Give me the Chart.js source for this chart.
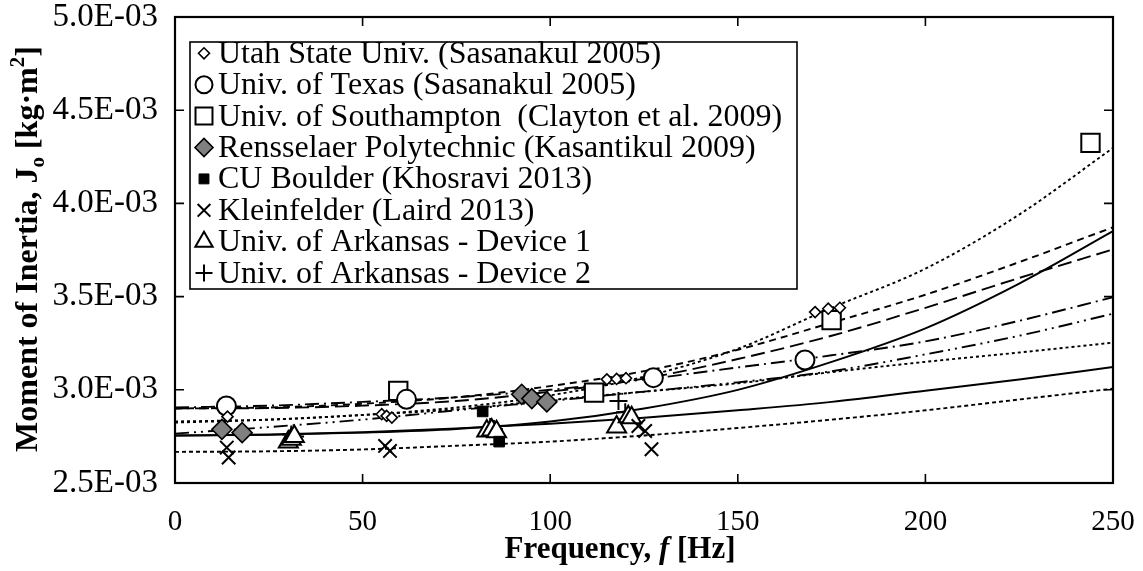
<!DOCTYPE html>
<html><head><meta charset="utf-8">
<script src="https://cdn.jsdelivr.net/npm/chart.js@4.4.1/dist/chart.umd.min.js"></script>
<style>html,body{margin:0;padding:0;background:#fff}#wrap{width:1143px;height:571px;position:relative}</style>
</head><body><div id="wrap"><canvas id="c"></canvas></div>
<script>
// ---- tick labels ----
const xTickLabels = ['0', '50', '100', '150', '200', '250'];
const yTickLabels = ['2.5E-03', '3.0E-03', '3.5E-03', '4.0E-03', '4.5E-03', '5.0E-03'];
const xTitle = ['Frequency, ', 'f', ' [Hz]'];
const yTitle = ['Moment of Inertia, J', 'o', ' [kg\u00B7m', '2', ']'];

// ---- series names ----
const seriesNames = [
  'Utah State Univ. (Sasanakul 2005)',
  'Univ. of Texas (Sasanakul 2005)',
  'Univ. of Southampton  (Clayton et al. 2009)',
  'Rensselaer Polytechnic (Kasantikul 2009)',
  'CU Boulder (Khosravi 2013)',
  'Kleinfelder (Laird 2013)',
  'Univ. of Arkansas - Device 1',
  'Univ. of Arkansas - Device 2'
];

// ---- measured points (frequency Hz, J0 kg·m²) ----
const utahF  = [14.0, 55.1, 56.4, 57.8, 115.1, 117.7, 120.2, 170.6, 174.1, 177.2];
const utahJ  = [2.856e-3, 2.869e-3, 2.860e-3, 2.851e-3, 3.056e-3, 3.058e-3, 3.062e-3, 3.417e-3, 3.435e-3, 3.440e-3];
const texasF = [13.7, 61.7, 127.5, 167.9];
const texasJ = [2.913e-3, 2.949e-3, 3.065e-3, 3.160e-3];
const sotonF = [59.5, 111.7, 175.0, 244.0];
const sotonJ = [2.994e-3, 2.985e-3, 3.374e-3, 4.325e-3];
const rpiF   = [12.5, 17.9, 92.4, 95.1, 99.1];
const rpiJ   = [2.788e-3, 2.770e-3, 2.976e-3, 2.953e-3, 2.935e-3];
const cuF    = [82.0, 86.4];
const cuJ    = [2.884e-3, 2.722e-3];
const kleinF = [13.8, 14.3, 56.0, 57.3, 123.5, 125.3, 127.0];
const kleinJ = [2.690e-3, 2.637e-3, 2.699e-3, 2.672e-3, 2.806e-3, 2.779e-3, 2.681e-3];
const ark1F  = [30.2, 31.0, 31.8, 83.1, 84.4, 85.7, 117.7, 120.8, 121.7];
const ark1J  = [2.720e-3, 2.735e-3, 2.750e-3, 2.779e-3, 2.785e-3, 2.775e-3, 2.800e-3, 2.855e-3, 2.850e-3];
const ark2F  = [31.0, 32.0, 84.0, 85.0, 118.2, 120.0];
const ark2J  = [2.760e-3, 2.750e-3, 2.800e-3, 2.790e-3, 2.940e-3, 2.880e-3];

// ---- fitted trend curves ----
const curveF = [0, 25, 50, 75, 100, 125, 150, 175, 200, 225, 250];
const curveTopDotted   = [2.830e-3, 2.840e-3, 2.865e-3, 2.905e-3, 2.970e-3, 3.070e-3, 3.220e-3, 3.440e-3, 3.650e-3, 3.940e-3, 4.298e-3];
const curveShortDash   = [2.900e-3, 2.905e-3, 2.925e-3, 2.960e-3, 3.020e-3, 3.100e-3, 3.215e-3, 3.360e-3, 3.510e-3, 3.685e-3, 3.872e-3];
const curveLongDash    = [2.900e-3, 2.902e-3, 2.915e-3, 2.940e-3, 2.990e-3, 3.060e-3, 3.165e-3, 3.290e-3, 3.440e-3, 3.600e-3, 3.753e-3];
const curveSolidSteep  = [2.755e-3, 2.758e-3, 2.770e-3, 2.790e-3, 2.830e-3, 2.900e-3, 3.000e-3, 3.150e-3, 3.330e-3, 3.570e-3, 3.851e-3];
const curveDashDotTx   = [2.905e-3, 2.915e-3, 2.935e-3, 2.960e-3, 3.000e-3, 3.055e-3, 3.120e-3, 3.185e-3, 3.260e-3, 3.370e-3, 3.497e-3];
const curveDashDotLow  = [2.765e-3, 2.800e-3, 2.840e-3, 2.890e-3, 2.940e-3, 2.990e-3, 3.040e-3, 3.100e-3, 3.190e-3, 3.290e-3, 3.408e-3];
const curveMidDotted   = [2.824e-3, 2.840e-3, 2.865e-3, 2.895e-3, 2.945e-3, 2.990e-3, 3.035e-3, 3.095e-3, 3.150e-3, 3.200e-3, 3.253e-3];
const curveSolidLow    = [2.755e-3, 2.760e-3, 2.772e-3, 2.793e-3, 2.818e-3, 2.850e-3, 2.890e-3, 2.935e-3, 2.995e-3, 3.055e-3, 3.122e-3];
const curveLowDotted   = [2.667e-3, 2.670e-3, 2.680e-3, 2.700e-3, 2.722e-3, 2.755e-3, 2.795e-3, 2.840e-3, 2.890e-3, 2.948e-3, 3.006e-3];

const pts = (xs, ys) => xs.map((x, i) => ({x, y: ys[i]}));
const SERIF = '"Liberation Serif", "Times New Roman", serif';

function markerSet(label, xs, ys, style, radius, fill, bw) {
  return {label, data: pts(xs, ys), showLine: false, pointStyle: style, pointRadius: radius,
    pointHoverRadius: radius, backgroundColor: fill, borderColor: '#000', pointBorderWidth: bw,
    borderWidth: bw, order: 1, isMarker: true};
}
function curveSet(ys, dash, w) {
  return {label: '', data: pts(curveF, ys), showLine: true, pointRadius: 0, borderColor: '#000',
    backgroundColor: '#000', borderWidth: w || 1.9, borderDash: dash, cubicInterpolationMode: 'monotone',
    fill: false, order: 2, isMarker: false};
}

const datasets = [
  curveSet(curveTopDotted, [3, 3]),
  curveSet(curveShortDash, [7, 5]),
  curveSet(curveLongDash, [14, 6]),
  curveSet(curveSolidSteep, []),
  curveSet(curveDashDotTx, [14, 5, 2, 5]),
  curveSet(curveDashDotLow, [14, 5, 2, 5, 2, 5]),
  curveSet(curveMidDotted, [3, 3]),
  curveSet(curveSolidLow, []),
  curveSet(curveLowDotted, [4, 3]),
  markerSet(seriesNames[0], utahF, utahJ, 'rectRot', 5.5, '#fff', 1.6),
  markerSet(seriesNames[1], texasF, texasJ, 'circle', 9.5, '#fff', 2),
  markerSet(seriesNames[2], sotonF, sotonJ, 'rect', 13, '#fff', 2),
  markerSet(seriesNames[3], rpiF, rpiJ, 'rectRot', 10, '#808080', 1.6),
  markerSet(seriesNames[4], cuF, cuJ, 'rect', 7.5, '#000', 1),
  markerSet(seriesNames[5], kleinF, kleinJ, 'crossRot', 9.5, '#000', 2),
  markerSet(seriesNames[6], ark1F, ark1J, 'triangle', 11, '#fff', 2),
  markerSet(seriesNames[7], ark2F, ark2J, 'cross', 9, '#000', 2)
];

// legend marker sizes
const legendRadius = [5.5, 8.5, 12, 9, 7, 9, 10, 8.5];

const framePlugin = {
  id: 'frame',
  afterDraw(chart) {
    const {ctx, chartArea: a, scales: {x, y}} = chart;
    ctx.save();
    ctx.strokeStyle = '#000';
    ctx.lineWidth = 2.2;
    ctx.strokeRect(a.left, a.top, a.right - a.left, a.bottom - a.top);
    ctx.lineWidth = 1.6;
    const L = 9;
    x.ticks.forEach(t => {
      const px = x.getPixelForValue(t.value);
      ctx.beginPath();
      ctx.moveTo(px, a.bottom); ctx.lineTo(px, a.bottom - L);
      ctx.moveTo(px, a.top); ctx.lineTo(px, a.top + L);
      ctx.stroke();
    });
    y.ticks.forEach(t => {
      const py = y.getPixelForValue(t.value);
      ctx.beginPath();
      ctx.moveTo(a.left, py); ctx.lineTo(a.left + L, py);
      ctx.moveTo(a.right, py); ctx.lineTo(a.right - L, py);
      ctx.stroke();
    });
    // axis titles with sub/superscripts
    ctx.fillStyle = '#000';
    ctx.textBaseline = 'alphabetic';
    const fsx = 31, fsy = 32;
    const boldX = `bold ${fsx}px ${SERIF}`, boldItX = `italic bold ${fsx}px ${SERIF}`;
    const runsX = [[xTitle[0], boldX], [xTitle[1], boldItX], [xTitle[2], boldX]];
    let wsum = 0;
    runsX.forEach(r => { ctx.font = r[1]; wsum += ctx.measureText(r[0]).width; });
    let cx = (a.left + a.right) / 2 - wsum / 2 - 24;
    runsX.forEach(r => { ctx.font = r[1]; ctx.fillText(r[0], cx, 558); cx += ctx.measureText(r[0]).width; });
    // y title (rotated)
    const boldY = `bold ${fsy}px ${SERIF}`;
    ctx.translate(37, 249);
    ctx.rotate(-Math.PI / 2);
    const small = `bold ${Math.round(fsy * 0.65)}px ${SERIF}`;
    const runsY = [[yTitle[0], boldY, 0], [yTitle[1], small, 7], [yTitle[2], boldY, 0], [yTitle[3], small, -13], [yTitle[4], boldY, 0]];
    wsum = 0;
    runsY.forEach(r => { ctx.font = r[1]; wsum += ctx.measureText(r[0]).width; });
    cx = -wsum / 2;
    runsY.forEach(r => { ctx.font = r[1]; ctx.fillText(r[0], cx, r[2]); cx += ctx.measureText(r[0]).width; });
    ctx.restore();
  }
};

const legendPlugin = {
  id: 'boxLegend',
  afterDatasetsDraw(chart) {
    const {ctx} = chart;
    const bx = 190, by = 42, bw = 607, bh = 247;
    ctx.save();
    ctx.fillStyle = '#fff';
    ctx.fillRect(bx, by, bw, bh);
    ctx.strokeStyle = '#000';
    ctx.lineWidth = 1.6;
    ctx.strokeRect(bx, by, bw, bh);
    const markers = chart.data.datasets.filter(d => d.isMarker);
    markers.forEach((d, i) => {
      const yy = 53.3 + i * 31.4;
      ctx.fillStyle = d.backgroundColor;
      ctx.strokeStyle = '#000';
      ctx.lineWidth = d.pointBorderWidth;
      Chart.helpers.drawPoint(ctx, {pointStyle: d.pointStyle, radius: legendRadius[i], rotation: 0, borderWidth: d.pointBorderWidth}, 204, yy);
      ctx.fillStyle = '#000';
      ctx.font = `32px ${SERIF}`;
      ctx.textBaseline = 'middle';
      ctx.fillText(d.label, 218, yy + 1);
    });
    ctx.restore();
  }
};

new Chart(document.getElementById('c'), {
  type: 'scatter',
  data: {datasets},
  options: {
    responsive: true,
    maintainAspectRatio: false,
    animation: false,
    events: [],
    layout: {padding: {top: 17, right: 30, left: 0, bottom: 0}},
    plugins: {legend: {display: false}, tooltip: {enabled: false}, title: {display: false}},
    scales: {
      x: {
        type: 'linear', min: 0, max: 250,
        afterFit: s => { s.height = 88; s.paddingLeft = 0; s.paddingRight = 0; },
        grid: {display: false, drawTicks: false},
        border: {display: false},
        ticks: {stepSize: 50, padding: 22, color: '#000', font: {family: SERIF, size: 29},
          callback: (v, i) => xTickLabels[i]}
      },
      y: {
        type: 'linear', min: 2.5e-3, max: 5.0e-3,
        afterFit: s => { s.width = 175; s.paddingTop = 0; s.paddingBottom = 0; },
        grid: {display: false, drawTicks: false},
        border: {display: false},
        ticks: {stepSize: 0.5e-3, padding: 17, color: '#000', font: {family: SERIF, size: 33},
          callback: (v, i) => yTickLabels[i]}
      }
    }
  },
  plugins: [framePlugin, legendPlugin]
});
</script></body></html>
